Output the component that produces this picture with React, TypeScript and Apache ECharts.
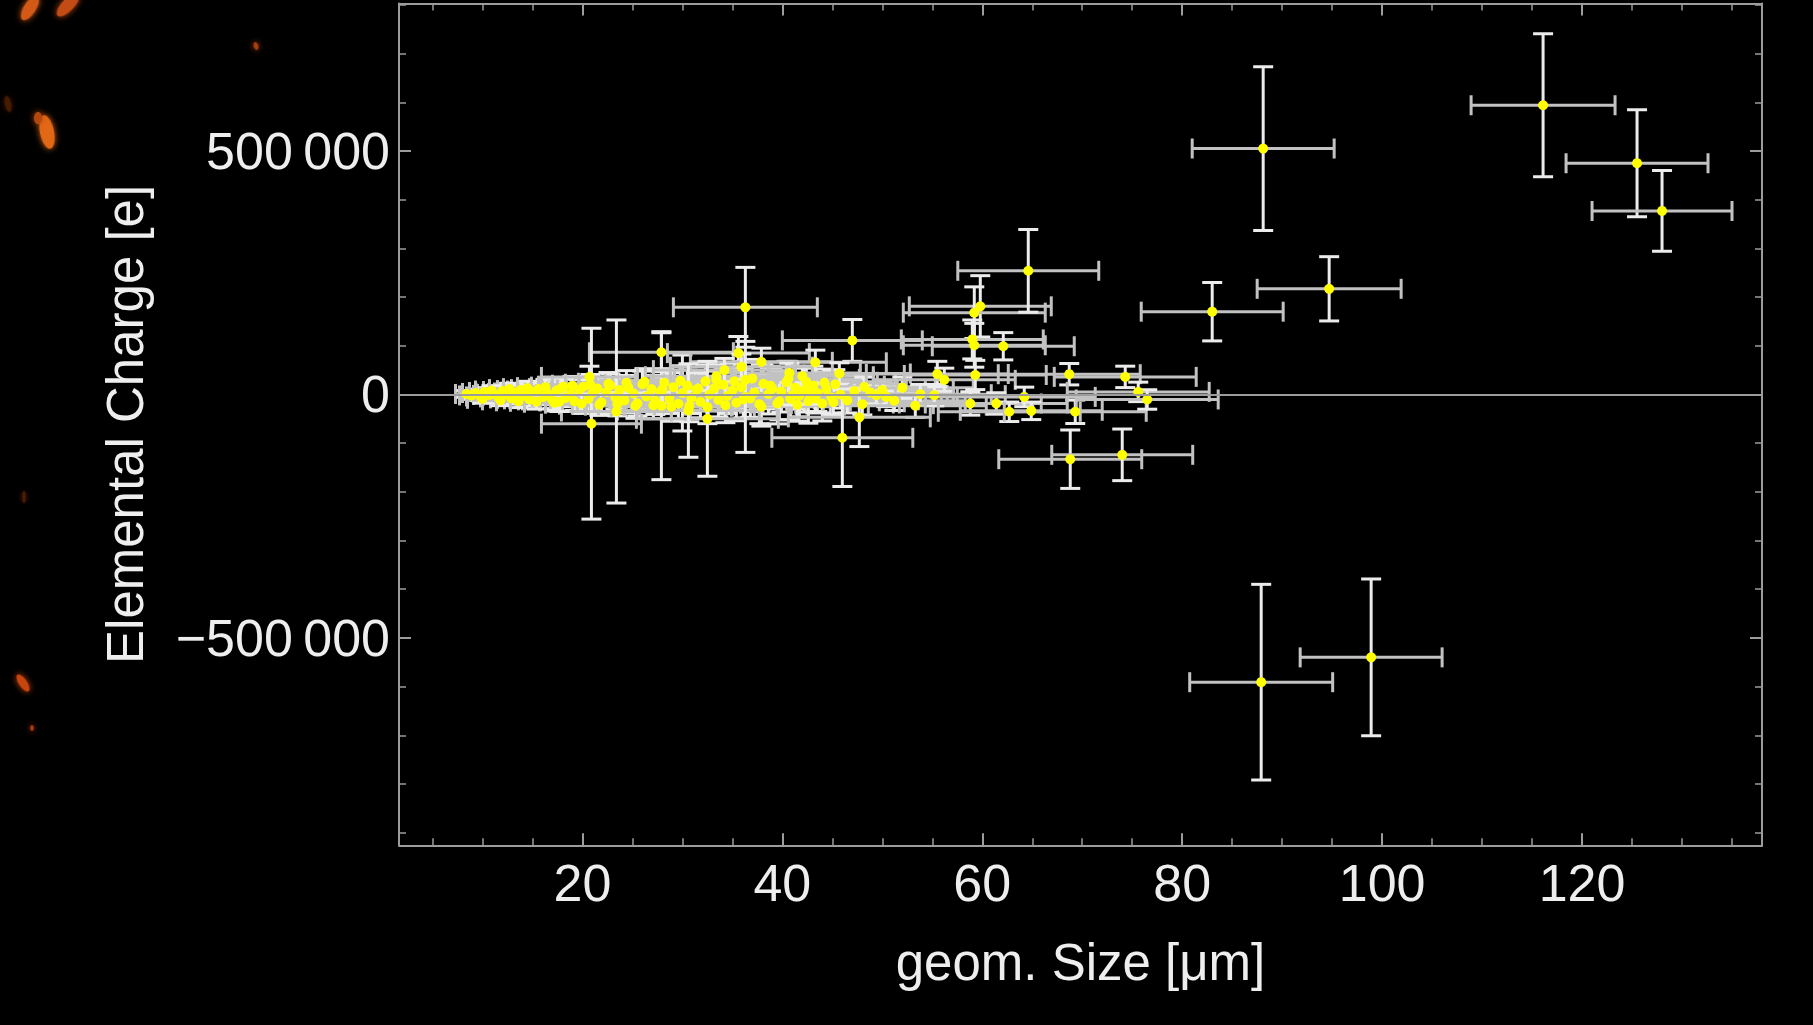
import React, { useEffect, useRef } from 'react';
import * as echarts from 'echarts';

// ---- Data ----
// Dense core of small particles: geometric size [µm], elemental charge [e], and their errors
const coreSize = [8.4, 8.9, 9.3, 9.8, 10.2, 10.7, 11.1, 11.6, 12.0, 12.5,
  12.9, 13.4, 13.8, 14.3, 14.7, 15.2, 15.6, 16.1, 16.5, 17.0,
  17.4, 17.9, 18.3, 18.8, 19.2, 19.7, 20.1, 20.6, 21.0, 21.5,
  21.9, 22.4, 22.8, 23.3, 23.7, 24.2, 24.6, 25.1, 25.5, 26.0,
  26.4, 26.9, 27.3, 27.8, 28.2, 28.7, 29.1, 29.6, 30.0, 30.5,
  30.9, 31.4, 31.8, 32.3, 32.7, 33.2, 33.6, 34.1, 34.5, 35.0,
  35.4, 35.9, 36.3, 36.8, 37.2, 37.7, 38.1, 38.6, 39.0, 39.5,
  39.9, 40.4, 40.8, 41.3, 41.7, 42.2, 42.6, 43.1, 43.5, 44.0,
  44.4, 44.9, 45.3, 45.8, 46.5, 47.2, 48.0, 48.8, 50.0, 51.2];
const coreCharge = [1000, -2000, 3000, -4000, 5000, -1000, 2000, -6000, 7000, 0,
  -8000, 4000, 9000, -3000, -10000, 6000, 11000, -5000, 2000, -12000,
  8000, 13000, -7000, 1000, -14000, 10000, 16000, -9000, 3000, 12000,
  -16000, 5000, 19000, -6000, 9000, -12000, 14000, 2000, -18000, 21000,
  -4000, 11000, -13000, 6000, 24000, -9000, 15000, -19000, 3000, 18000,
  -7000, 10000, -15000, 27000, 0, 13000, -11000, 20000, -3000, 8000,
  -17000, 15000, 30000, -8000, 4000, -20000, 22000, 1000, 12000, -18500,
  6000, 25000, -9000, 14000, -2000, 9000, -14000, 18000, 3000, -18500,
  11000, -6000, 21000, 0, -12000, 7000, -20000, 4000, 9000, -13000];
const coreSizeErr = [1.1, 1.2, 1.3, 1.4, 1.5, 1.6, 1.7, 1.8, 1.9, 2.0,
  2.1, 2.2, 2.3, 2.4, 2.5, 2.6, 2.7, 2.8, 2.9, 3.0,
  3.1, 3.2, 3.3, 3.4, 3.5, 3.6, 3.7, 3.8, 3.9, 4.0,
  4.1, 4.3, 4.4, 4.5, 4.6, 4.7, 4.9, 5.0, 5.1, 5.2,
  5.4, 5.5, 5.6, 5.7, 5.9, 6.0, 6.1, 6.2, 6.4, 6.5,
  6.6, 6.7, 6.9, 7.0, 7.1, 7.1, 7.1, 7.1, 7.1, 7.1,
  7.1, 7.1, 7.1, 7.1, 7.1, 7.1, 7.1, 7.1, 7.1, 7.1,
  7.1, 7.1, 7.1, 7.1, 7.1, 7.1, 7.1, 7.1, 7.1, 7.1,
  7.1, 7.1, 7.1, 7.1, 7.1, 7.1, 7.1, 7.1, 7.1, 7.1];
const coreChargeErr = [7000, 8000, 8000, 9000, 9000, 10000, 10000, 11000, 11000, 12000,
  12000, 13000, 13000, 14000, 14000, 15000, 15000, 16000, 16000, 17000,
  17000, 18000, 18000, 19000, 19000, 20000, 20000, 21000, 21000, 22000,
  22000, 23000, 23000, 24000, 24000, 25000, 25000, 26000, 26000, 27000,
  27000, 28000, 28000, 29000, 29000, 30000, 30000, 31000, 78000, 32000,
  32000, 33000, 33000, 34000, 34000, 35000, 35000, 36000, 36000, 37000,
  37000, 38000, 38000, 39000, 39000, 40000, 40000, 41000, 41000, 42000,
  42000, 43000, 43000, 44000, 44000, 45000, 45000, 40000, 38000, 36000,
  34000, 32000, 30000, 28000, 26000, 24000, 22000, 20000, 20000, 20000];

// Second layer of the core (edges of the dense band)
const bandSize = [10.0, 10.9, 11.8, 12.7, 13.6, 14.5, 15.4, 16.3, 17.2, 18.1,
  19.0, 19.9, 20.8, 21.7, 22.6, 23.5, 24.4, 25.3, 26.2, 27.1,
  28.0, 28.9, 29.8, 30.7, 31.6, 32.5, 33.4, 34.3, 35.2, 36.1,
  37.0, 37.9, 38.8, 39.7, 40.6, 41.5, 42.4, 43.3, 44.2, 45.1];
const bandCharge = [-9000, 8000, -12000, 11000, -14000, 13000, -15000, 15000, -17000, 16000,
  18000, -19000, 20000, -21000, 22000, -20000, 24000, -23000, 26000, -22000,
  10000, -25000, 28000, -24000, 12000, -26000, 30000, -22000, 27000, -10000,
  33000, -25000, 18000, -14000, 32000, -21000, 26000, -8000, 24000, -16000];
const bandSizeErr = [1.5, 1.6, 1.8, 2.0, 2.2, 2.4, 2.6, 2.8, 3.0, 3.2,
  3.4, 3.6, 3.8, 4.0, 4.3, 4.5, 4.8, 5.0, 5.3, 5.5,
  5.8, 6.0, 6.3, 6.5, 6.8, 7.0, 7.1, 7.1, 7.1, 7.1,
  7.1, 7.1, 7.1, 7.1, 7.1, 7.1, 7.1, 7.1, 7.1, 7.1];
const bandChargeErr = [9000, 10000, 11000, 12000, 13000, 14000, 15000, 16000, 17000, 18000,
  19000, 20000, 21000, 22000, 23000, 24000, 25000, 26000, 27000, 28000,
  29000, 30000, 31000, 32000, 33000, 34000, 35000, 36000, 37000, 38000,
  39000, 40000, 40000, 38000, 36000, 34000, 32000, 30000, 28000, 26000];

// Spread-out medium particles
const spreadSize = [27.9, 27.9, 47.0, 35.6, 37.9, 43.3, 45.7, 40.7, 42.0, 33.4,
  34.2, 35.9, 48.2, 49.4, 50.4, 52.0, 53.3, 55.5, 56.2, 59.8,
  59.2, 59.0, 59.2, 62.1, 59.3, 53.8, 55.2, 58.8, 61.4, 62.7,
  64.9, 64.2, 68.7, 69.3, 74.3, 75.6, 76.5, 47.7, 32.5, 30.6,
  36.3, 20.9, 23.4, 20.7, 17.7, 41.0, 42.7];
const spreadCharge = [86700, -23000, 111000, 85000, 67000, 66000, 43000, 44000, 37500, 37500,
  50000, 57000, 15600, -1400, -5000, 14000, -23000, 42000, 30000, 181000,
  168000, 113000, 101000, 99000, 40000, 600, -1400, -18500, -18500, -35600,
  -33600, -5000, 41600, -35600, 36100, 5300, -10300, -47000, -50000, -33000,
  -5000, -60000, -35000, 36000, -15000, -1400, 2000];
const spreadSizeErr = [7.2, 7.1, 7.0, 7.1, 7.1, 7.1, 7.1, 7.1, 7.1, 7.1,
  7.1, 7.1, 7.1, 7.1, 7.1, 7.1, 7.1, 7.1, 7.1, 7.1,
  7.1, 7.1, 7.1, 7.1, 7.1, 7.1, 7.1, 7.1, 7.1, 7.1,
  7.1, 7.1, 7.1, 7.1, 7.1, 7.1, 7.1, 7.1, 7.1, 7.1,
  7.1, 5.0, 5.5, 4.8, 3.5, 7.1, 7.1];
const spreadChargeErr = [40000, 152000, 43000, 34000, 28000, 25000, 22000, 20000, 18000, 22000,
  24000, 26000, 20000, 18000, 20000, 22000, 24000, 26000, 24000, 63000,
  53000, 40000, 45000, 28000, 30000, 20000, 22000, 24000, 22000, 20000,
  18000, 20000, 22000, 24000, 22000, 20000, 20000, 60000, 118000, 96000,
  114000, 196000, 188000, 22000, 20000, 20000, 22000];

// Large / strongly charged particles
const outlierSize = [116.1, 125.5, 128.0, 88.1, 94.7, 83.0, 64.6, 87.9, 98.9, 36.3, 68.8, 74.0, 46.0];
const outlierCharge = [594000, 475000, 377000, 505000, 217000, 170000, 254000, -591000, -540000, 179000, -133000, -124000, -89000];
const outlierSizeErr = [7.2, 7.1, 7.0, 7.1, 7.2, 7.1, 7.05, 7.15, 7.1, 7.2, 7.15, 7.05, 7.05];
const outlierChargeErr = [147000, 110000, 83000, 168000, 66000, 60000, 85000, 201000, 161000, 82000, 60000, 53000, 100000];

// Axis ranges
const X_RANGE = [1.65, 138.0];
const Y_RANGE = [-926000, 803000];

const X_TITLE = 'geom. Size [μm]';
const Y_TITLE = 'Elemental Charge [e]';

const FONT = '"Liberation Sans", Arial, Helvetica, sans-serif';
const TEXT = '#eeeeee';
const FRAME = '#9c9c9c';

function formatCharge(v: number): string {
  if (v === 0) return '0';
  const s = Math.round(Math.abs(v)).toString().replace(/\B(?=(\d{3})+(?!\d))/g, '\u2009');
  return (v < 0 ? '\u2212' : '') + s;
}

export default function App() {
  const ref = useRef<HTMLDivElement>(null);

  useEffect(() => {
    if (!ref.current) return;
    const chart = echarts.init(ref.current, null, { renderer: 'svg' });

    const rows: number[][] = [];
    const groups = [
      [coreSize, coreCharge, coreSizeErr, coreChargeErr],
      [bandSize, bandCharge, bandSizeErr, bandChargeErr],
      [spreadSize, spreadCharge, spreadSizeErr, spreadChargeErr],
      [outlierSize, outlierCharge, outlierSizeErr, outlierChargeErr],
    ];
    groups.forEach(([s, c, se, ce]) => {
      s.forEach((v, i) => rows.push([v, c[i], se[i], ce[i]]));
    });

    const tickStyle = { color: FRAME, width: 2 };
    const frameLine = { show: true, onZero: false, lineStyle: { color: FRAME, width: 2 } };
    const xBase: any = {
      type: 'value', min: X_RANGE[0], max: X_RANGE[1], splitNumber: 7,
      axisLine: frameLine,
      axisTick: { show: true, inside: true, length: 12, lineStyle: tickStyle },
      minorTick: { show: true, splitNumber: 4, length: 7, lineStyle: { color: FRAME, width: 1.5 } },
      splitLine: { show: false }, minorSplitLine: { show: false },
    };
    const yBase: any = {
      type: 'value', min: Y_RANGE[0], max: Y_RANGE[1], splitNumber: 4,
      axisLine: frameLine,
      axisTick: { show: true, inside: true, length: 12, lineStyle: tickStyle },
      minorTick: { show: true, splitNumber: 5, length: 7, lineStyle: { color: FRAME, width: 1.5 } },
      splitLine: { show: false }, minorSplitLine: { show: false },
    };

    const CAP = 10;
    const hStyle = { stroke: '#c2c2c2', lineWidth: 3 };
    const vStyle = { stroke: '#ececec', lineWidth: 3 };

    const blob = (x: number, y: number, rx: number, ry: number, rot: number, fill: string) => ({
      type: 'ellipse', x, y, rotation: rot, shape: { cx: 0, cy: 0, rx, ry },
      style: { fill, shadowBlur: 6, shadowColor: fill }, silent: true,
    });

    chart.setOption({
      animation: false,
      backgroundColor: '#000000',
      grid: { left: 399, right: 51, top: 3.5, bottom: 179.7, containLabel: false },
      xAxis: [
        {
          ...xBase, position: 'bottom',
          name: X_TITLE, nameLocation: 'middle', nameGap: 92,
          nameTextStyle: { color: TEXT, fontSize: 51, fontFamily: FONT },
          axisLabel: { show: true, color: TEXT, fontSize: 52, fontFamily: FONT, margin: 12, showMinLabel: false, showMaxLabel: false },
        },
        { ...xBase, position: 'top', axisLabel: { show: false } },
      ],
      yAxis: [
        {
          ...yBase, position: 'left',
          name: Y_TITLE, nameLocation: 'middle', nameGap: 248, nameRotate: 90,
          nameTextStyle: { color: TEXT, fontSize: 51, fontFamily: FONT },
          axisLabel: { show: true, color: TEXT, fontSize: 52, fontFamily: FONT, margin: 9, showMinLabel: false, showMaxLabel: false, formatter: formatCharge },
        },
        { ...yBase, position: 'right', axisLabel: { show: false } },
      ],
      series: [
        {
          type: 'custom',
          xAxisIndex: 0, yAxisIndex: 0,
          clip: true, silent: true, z: 2,
          encode: { x: 0, y: 1 },
          data: rows,
          renderItem: (params: any, api: any) => {
            const x = api.value(0), y = api.value(1), xe = api.value(2), ye = api.value(3);
            const l = api.coord([x - xe, y]);
            const r = api.coord([x + xe, y]);
            const t = api.coord([x, y + ye]);
            const b = api.coord([x, y - ye]);
            return {
              type: 'group',
              children: [
                { type: 'line', shape: { x1: l[0], y1: l[1], x2: r[0], y2: r[1] }, style: hStyle },
                { type: 'line', shape: { x1: l[0], y1: l[1] - CAP, x2: l[0], y2: l[1] + CAP }, style: hStyle },
                { type: 'line', shape: { x1: r[0], y1: r[1] - CAP, x2: r[0], y2: r[1] + CAP }, style: hStyle },
                { type: 'line', shape: { x1: t[0], y1: t[1], x2: b[0], y2: b[1] }, style: vStyle },
                { type: 'line', shape: { x1: t[0] - CAP, y1: t[1], x2: t[0] + CAP, y2: t[1] }, style: vStyle },
                { type: 'line', shape: { x1: b[0] - CAP, y1: b[1], x2: b[0] + CAP, y2: b[1] }, style: vStyle },
              ],
            };
          },
          markLine: {
            silent: true, symbol: ['none', 'none'], label: { show: false },
            lineStyle: { color: FRAME, width: 2, type: 'solid' },
            data: [{ yAxis: 0 }],
          },
        },
        {
          type: 'scatter', xAxisIndex: 0, yAxisIndex: 0, z: 3, silent: true,
          symbol: 'circle', symbolSize: 10,
          itemStyle: { color: '#ffff00', opacity: 1 },
          data: rows.map((r) => [r[0], r[1]]),
        },
      ],
      graphic: [
        blob(30, 8, 14, 6, 1.0, '#d25a16'),
        blob(68, 5, 15, 6, 0.8, '#c24c12'),
        blob(47, 132, 7, 17, 0.2, '#e26814'),
        blob(38, 118, 4, 6, 0.0, '#b4460e'),
        blob(256, 46, 2.5, 4, 0.3, '#a53c0c'),
        blob(8, 104, 3, 8, 0.2, '#4a1a06'),
        blob(23, 683, 4, 10, 0.6, '#c8440e'),
        blob(32, 728, 2, 3, 0.0, '#a2360a'),
        blob(24, 497, 2, 6, 0.0, '#4a1a06'),
      ],
    });

    return () => chart.dispose();
  }, []);

  return (
    <div
      ref={ref}
      style={{ position: 'fixed', left: 0, top: 0, width: 1813, height: 1025, background: '#000' }}
    />
  );
}
